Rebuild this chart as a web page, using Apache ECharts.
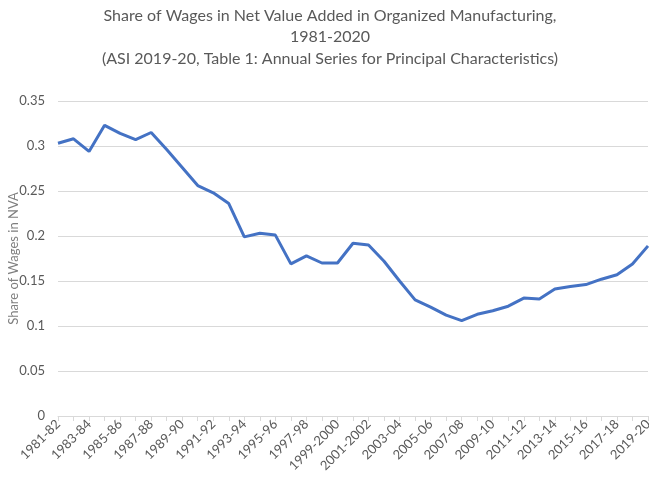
<!DOCTYPE html>
<html>
<head>
<meta charset="utf-8">
<script src="https://cdn.jsdelivr.net/npm/echarts@6/dist/echarts.min.js"></script>
<style>html,body{margin:0;padding:0;background:#fff}#c{width:649px;height:477px}</style>
</head>
<body>
<div id="c"></div>
<script>
const categories = ["1981-82","1982-83","1983-84","1984-85","1985-86","1986-87","1987-88","1988-89","1989-90","1990-91",
"1991-92","1992-93","1993-94","1994-95","1995-96","1996-97","1997-98","1998-99","1999-2000","2000-01",
"2001-2002","2002-03","2003-04","2004-05","2005-06","2006-07","2007-08","2008-09","2009-10","2010-11",
"2011-12","2012-13","2013-14","2014-15","2015-16","2016-17","2017-18","2018-19","2019-20"];
const wageShare = [0.303,0.308,0.294,0.323,0.314,0.307,0.315,0.296,0.276,0.256,
0.248,0.236,0.199,0.203,0.201,0.169,0.178,0.170,0.170,0.192,
0.190,0.172,0.150,0.129,0.121,0.112,0.106,0.113,0.117,0.122,
0.131,0.130,0.141,0.144,0.146,0.152,0.157,0.169,0.189];
const titleLines = ["Share of Wages in Net Value Added in Organized Manufacturing,","1981-2020","(ASI 2019-20, Table 1: Annual Series for Principal Characteristics)"];
const yAxisName = "Share of Wages in NVA";

const chart = echarts.init(document.getElementById('c'));
const font = 'Lato, "Open Sans", sans-serif';
chart.setOption({
  animation: false,
  title: {
    text: titleLines.join('\n'),
    left: 325, textAlign: 'center', top: 0,
    textStyle: {fontFamily: font, fontSize: 16, fontWeight: 'normal', color: '#595959', lineHeight: 21.5}
  },
  grid: {left: 58, right: 1, top: 101, bottom: 61, containLabel: false, outerBoundsMode: 'none'},
  xAxis: {
    type: 'category', data: categories, boundaryGap: false,
    axisLine: {lineStyle: {color: '#d9d9d9', width: 1}},
    axisTick: {show: true, interval: 0, length: 5, lineStyle: {color: '#d9d9d9'}},
    axisLabel: {interval: 1, rotate: 45, fontFamily: font, fontSize: 13, color: '#595959', margin: 6, showMaxLabel: true},
    splitLine: {show: false}
  },
  yAxis: {
    type: 'value', min: 0, max: 0.35, interval: 0.05,
    name: yAxisName, nameLocation: 'middle', nameGap: 38, nameMoveOverlap: false,
    nameTextStyle: {fontFamily: font, fontSize: 13, color: '#7f7f7f'},
    axisLine: {show: false}, axisTick: {show: false},
    axisLabel: {fontFamily: font, fontSize: 13, color: '#595959', margin: 13},
    splitLine: {lineStyle: {color: '#d9d9d9', width: 1}}
  },
  series: [{
    type: 'line', data: wageShare, showSymbol: false, symbol: 'none',
    lineStyle: {color: '#4472C4', width: 3}, itemStyle: {color: '#4472C4'}
  }]
});
</script>
</body>
</html>
